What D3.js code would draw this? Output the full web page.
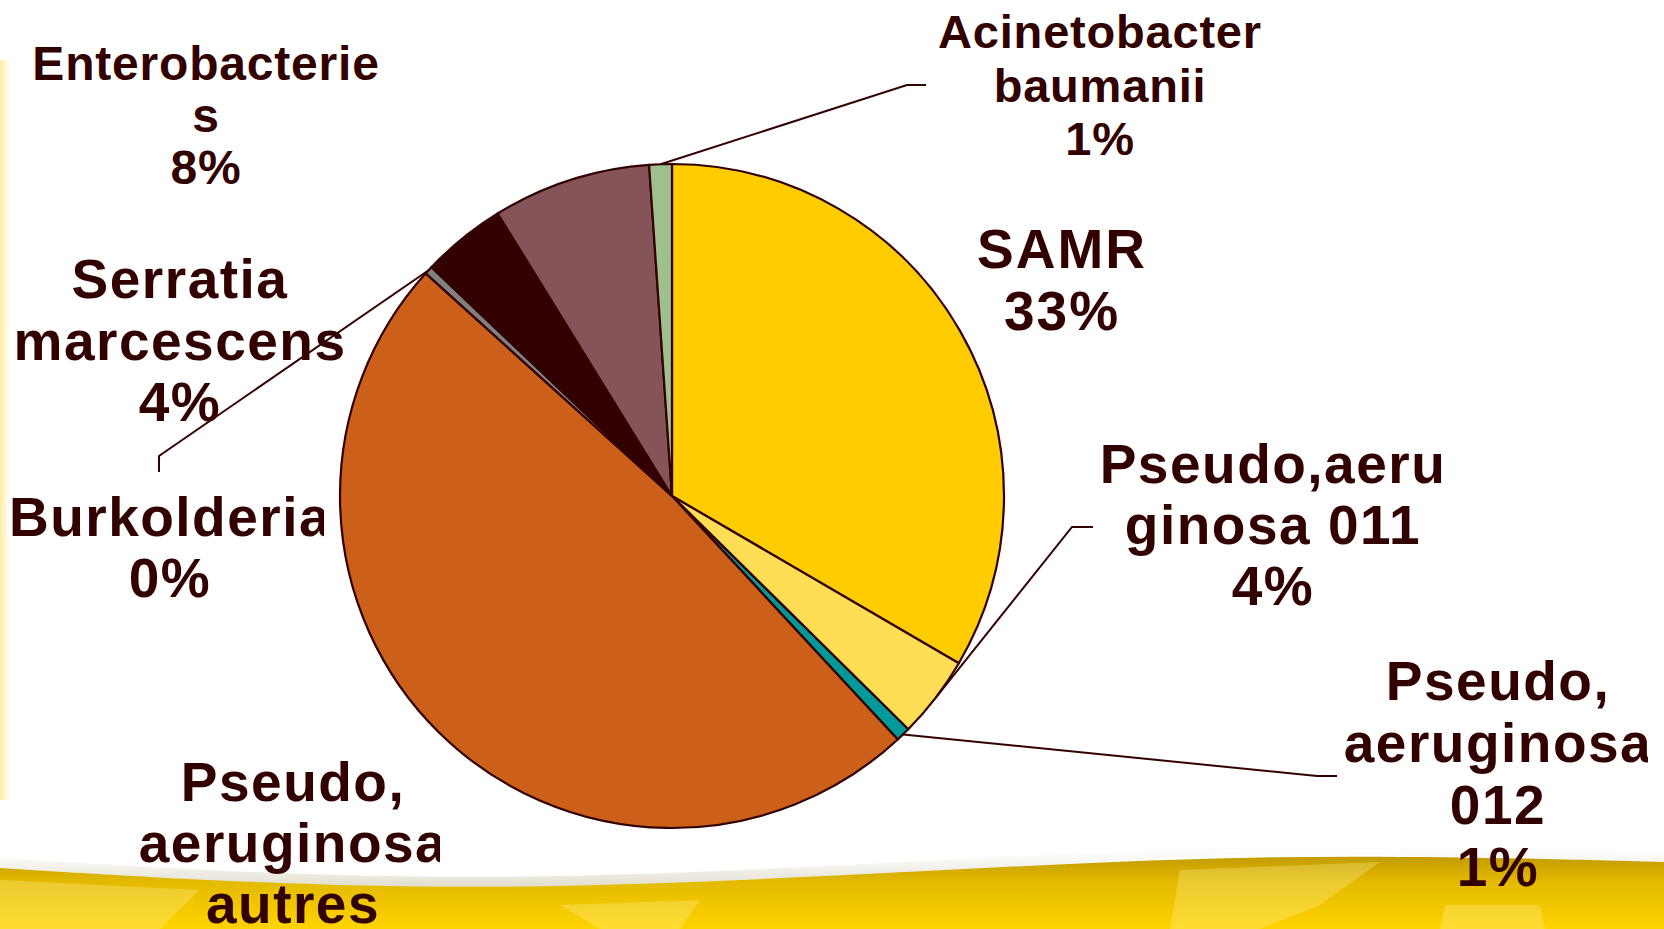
<!DOCTYPE html>
<html>
<head>
<meta charset="utf-8">
<script src="https://cdn.jsdelivr.net/npm/d3@7"></script>
<style>
  html, body { margin: 0; padding: 0; background: #fff; overflow: hidden; }
  svg { display: block; }
  text { font-family: "Liberation Sans", Arial, sans-serif; font-weight: bold; fill: #330000; }
</style>
</head>
<body>
<svg id="chart" width="1664" height="929"></svg>
<script>
// data (share of isolates, %)
const categories = ["SAMR", "Pseudo,aeruginosa 011", "Pseudo, aeruginosa 012", "Pseudo, aeruginosa autres",
  "Burkolderia", "Serratia marcescens", "Enterobacteries", "Acinetobacter baumanii"];
const values = [33.4, 4.0, 0.7, 48.6, 0.4, 4.1, 7.7, 1.1];
const colors = ["#FFCC00", "#FFDD55", "#009999", "#CC5F1A", "#808080", "#330000", "#845458", "#9DC08D"];
const labelLines = [
  ["SAMR"], ["Pseudo,aeru", "ginosa 011"], ["Pseudo,", "aeruginosa", "012"], ["Pseudo,", "aeruginosa", "autres"],
  ["Burkolderia"], ["Serratia", "marcescens"], ["Enterobacterie", "s"], ["Acinetobacter", "baumanii"]
];

// label layout: centre x, first baseline, line step, font size, letter spacing, right clip, leader (start, elbow)
const labelLayout = [
  { x: 1062, y: 268, step: 62, size: 55, ls: 2 },
  { x: 1273, y: 483, step: 61, size: 55, ls: 1.5, clip: 1441, leader: [[1093, 527], [1072, 527]] },
  { x: 1498, y: 700, step: 62, size: 55, ls: 1.5, clip: 1648, leader: [[1337, 776], [1317, 776]] },
  { x: 293, y: 801, step: 61, size: 55, ls: 1.5, clip: 440 },
  { x: 170, y: 536, step: 61, size: 55, ls: 1.5, clip: 324, leader: [[159, 472], [159, 456]] },
  { x: 180, y: 298, step: 61.5, size: 55, ls: 1.5, clip: 343 },
  { x: 206, y: 80, step: 52, size: 48, ls: 0.8 },
  { x: 1100, y: 48, step: 53.5, size: 47, ls: 0.8, leader: [[926, 85], [907, 85]] }
];

const svg = d3.select("#chart");
const width = +svg.attr("width");
const height = +svg.attr("height");
const defs = svg.append("defs");

// background: faint yellow left edge and the golden wave at the bottom
const leftGrad = defs.append("linearGradient").attr("id", "leftEdge").attr("x1", 0).attr("x2", 1);
leftGrad.append("stop").attr("offset", 0).attr("stop-color", "#FFE36A").attr("stop-opacity", 0.7);
leftGrad.append("stop").attr("offset", 1).attr("stop-color", "#FFF8D8").attr("stop-opacity", 0);
svg.append("rect").attr("x", 0).attr("y", 60).attr("width", 12).attr("height", 740).attr("fill", "url(#leftEdge)");

const bandGrad = defs.append("linearGradient").attr("id", "band").attr("x1", 0).attr("x2", 0).attr("y1", 0).attr("y2", 1);
bandGrad.append("stop").attr("offset", 0).attr("stop-color", "#C29C00");
bandGrad.append("stop").attr("offset", 0.35).attr("stop-color", "#E4BA00");
bandGrad.append("stop").attr("offset", 1).attr("stop-color", "#FFD400");

const shadowGrad = defs.append("linearGradient").attr("id", "shadow").attr("x1", 0).attr("x2", 0).attr("y1", 0).attr("y2", 1);
shadowGrad.append("stop").attr("offset", 0).attr("stop-color", "#e0dccc").attr("stop-opacity", 0);
shadowGrad.append("stop").attr("offset", 1).attr("stop-color", "#c8c0a0").attr("stop-opacity", 0.6);

const wave = [[0, 868], [260, 884], [530, 890], [900, 873], [1273, 852], [1664, 862]];
const waveLine = d3.line().curve(d3.curveBasis);
const bandPath = waveLine(wave) + `L${width},${height}L0,${height}Z`;
const shadowPath = waveLine(wave.map(p => [p[0], p[1] - 10])) + "L" + wave.slice().reverse().map(p => p.join(",")).join("L") + "Z";
svg.append("path").attr("d", shadowPath).attr("fill", "url(#shadow)");
svg.append("path").attr("d", bandPath).attr("fill", "url(#band)");

const shards = [
  [[0, 880], [200, 890], [160, 929], [0, 929]],
  [[1180, 870], [1380, 862], [1320, 905], [1260, 929], [1170, 929]],
  [[1445, 905], [1540, 905], [1545, 929], [1440, 929]],
  [[560, 905], [700, 900], [680, 929], [600, 929]]
];
svg.selectAll("polygon.shard").data(shards).join("polygon")
  .attr("class", "shard")
  .attr("points", d => d.map(p => p.join(",")).join(" "))
  .attr("fill", "#FFF1A0").attr("opacity", 0.3);

// pie
const cx = 672, cy = 496, radius = 332;
const pie = d3.pie().sort(null).value(d => d)(values);
const arc = d3.arc().innerRadius(0).outerRadius(radius);
const edge = d3.arc().innerRadius(radius).outerRadius(radius);
const total = d3.sum(values);
const fmt = d3.format(".0%");

const g = svg.append("g").attr("transform", `translate(${cx},${cy})`);
g.selectAll("path.slice").data(pie).join("path")
  .attr("class", "slice")
  .attr("d", arc)
  .attr("fill", (d, i) => colors[i])
  .attr("stroke", "#330000")
  .attr("stroke-width", 2.2)
  .attr("stroke-linejoin", "round");

// leader lines
labelLayout.forEach((l, i) => {
  if (!l.leader) return;
  const c = edge.centroid(pie[i]);
  const pts = l.leader.concat([[cx + c[0], cy + c[1]]]);
  svg.append("polyline")
    .attr("points", pts.map(p => p.join(",")).join(" "))
    .attr("fill", "none").attr("stroke", "#330000").attr("stroke-width", 2);
});

// labels
labelLayout.forEach((l, i) => {
  const lines = labelLines[i].concat([fmt(values[i] / total)]);
  let parent = svg;
  if (l.clip) {
    const id = "clip" + i;
    defs.append("clipPath").attr("id", id).append("rect")
      .attr("x", 0).attr("y", 0).attr("width", l.clip).attr("height", height);
    parent = svg.append("g").attr("clip-path", `url(#${id})`);
  }
  const t = parent.append("text")
    .attr("text-anchor", "middle")
    .attr("font-size", l.size)
    .attr("letter-spacing", l.ls);
  lines.forEach((s, j) => {
    t.append("tspan").attr("x", l.x).attr("y", l.y + j * l.step).text(s);
  });
});
</script>
</body>
</html>
